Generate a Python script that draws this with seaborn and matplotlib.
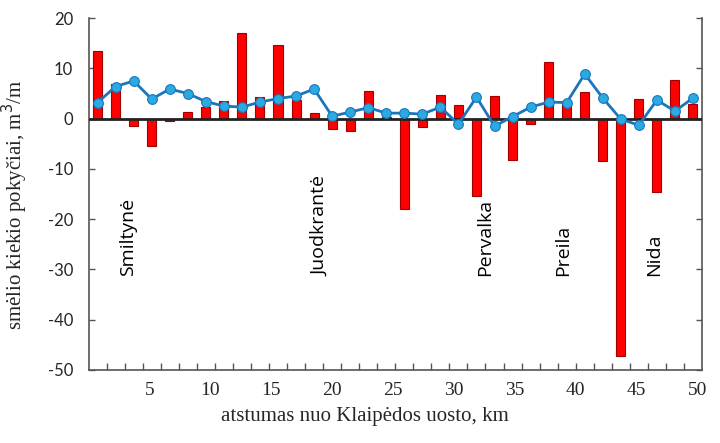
import numpy as np
import matplotlib
matplotlib.use("Agg")
import matplotlib.pyplot as plt
import seaborn as sns

# profile sections along the spit (34 sections, ~1.5 km each)
section = list(range(1, 35))
# sand volume change per section, m3/m (bars)
change = [13.5, 6.8, -1.5, -5.5, -0.4, 1.4, 2.4, 3.5, 17.1, 4.4,
          14.6, 3.8, 1.2, -2.0, -2.4, 5.5, 0.4, -17.9, -1.6, 4.7,
          2.7, -15.4, 4.5, -8.2, -1.0, 11.3, 2.9, 5.3, -8.4, -47.2,
          3.9, -14.6, 7.6, 2.9]
# second series (line with markers)
line_vals = [3.2, 6.4, 7.5, 3.9, 5.9, 5.0, 3.4, 2.5, 2.3, 3.3,
             4.0, 4.5, 5.9, 0.5, 1.3, 2.2, 1.1, 1.1, 0.9, 2.3,
             -1.1, 4.3, -1.5, 0.4, 2.3, 3.3, 3.2, 8.9, 4.1, -0.1,
             -1.3, 3.7, 1.5, 4.1]
km_ticks = [5, 10, 15, 20, 25, 30, 35, 40, 45, 50]
towns = ["Smiltynė", "Juodkrantė", "Pervalka", "Preila", "Nida"]
town_km = [3.25, 19.0, 32.6, 39.0, 46.5]
y_ticks = [20, 10, 0, -10, -20, -30, -40, -50]

sns.set_style("white")

# km -> categorical position
km_len = 50.4
def km_to_pos(km):
    return km * len(section) / km_len - 0.5

fig = plt.figure(figsize=(7.2, 4.43), dpi=100)
ax = fig.add_axes([0.123, 0.165, 0.852, 0.794])

sns.barplot(x=section, y=change, color="#FF0000", saturation=1, width=0.5,
            edgecolor="#A00000", linewidth=0.8, ax=ax, zorder=2)
ax.axhline(0, color="#222222", lw=1.1, zorder=3)
sns.pointplot(x=section, y=line_vals, color="#1B75BB", markers="o",
              linestyles="-", ax=ax, zorder=4)
for ln in ax.lines[1:]:
    ln.set_linewidth(2)
    ln.set_markersize(7)
    ln.set_markerfacecolor("#29ABE2")
    ln.set_markeredgecolor("#1B75BB")
    ln.set_markeredgewidth(0.8)

ax.set_xlim(-0.5, len(section) - 0.5)
ax.set_ylim(-50, 20)

ax.set_xticks([km_to_pos(k) for k in km_ticks])
ax.set_xticklabels([str(k) for k in km_ticks], family="Liberation Serif", fontsize=14)
ax.set_xticks(np.arange(0.5, len(section) - 1, 1), minor=True)
ax.tick_params(axis="x", which="major", length=0, pad=9)
ax.tick_params(axis="x", which="minor", direction="in", length=5, width=1,
               color="#555555", bottom=True)

ax.set_yticks(y_ticks)
ax.set_yticklabels([str(v) for v in y_ticks], family="Lato", fontsize=12)
ax.tick_params(axis="y", direction="in", length=4, width=1, color="#555555",
               left=True, right=True, pad=11)

for s in ["left", "bottom", "right"]:
    ax.spines[s].set_color("#555555")
    ax.spines[s].set_linewidth(1.2)
ax.spines["top"].set_visible(False)

for name, km in zip(towns, town_km):
    ax.text(km_to_pos(km), -31.3, name, rotation=90, ha="center", va="bottom",
            family="Open Sans", fontsize=14, color="black")

ax.set_xlabel("atstumas nuo Klaipėdos uosto, km", family="Liberation Serif",
              fontsize=15)
ax.set_ylabel("smėlio kiekio pokyčiai, m$^3$/m", family="Liberation Serif",
              fontsize=15)
ax.xaxis.set_label_coords(0.45, -0.105)
ax.yaxis.set_label_coords(-0.095, 0.47)

fig.savefig("out.png", dpi=100)
